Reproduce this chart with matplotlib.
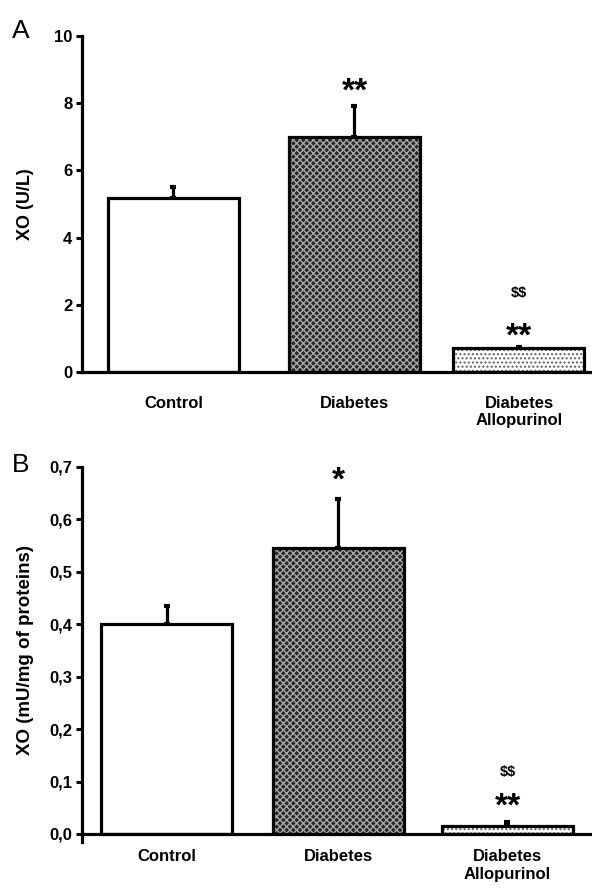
import matplotlib
matplotlib.use("Agg")
import matplotlib.pyplot as plt

plt.rcParams["font.family"] = ["Liberation Sans", "DejaVu Sans"]
plt.rcParams["hatch.linewidth"] = 1.0

# data
groups = ["Control", "Diabetes", "Diabetes\nAllopurinol"]
xo_serum = [5.17, 7.0, 0.71]
xo_serum_err = [0.32, 0.9, 0.04]
xo_serum_marks = ["", "**", "**"]
xo_serum_marks2 = ["", "", "$$"]
xo_serum_ticks = [0, 2, 4, 6, 8, 10]

xo_tissue = [0.40, 0.545, 0.016]
xo_tissue_err = [0.034, 0.094, 0.007]
xo_tissue_marks = ["", "*", "**"]
xo_tissue_marks2 = ["", "", "$$"]
xo_tissue_ticks = [0.0, 0.1, 0.2, 0.3, 0.4, 0.5, 0.6, 0.7]

# bar styles: face, hatch colour, hatch
styles = [("white", "white", ""),
          ("#262626", "#a8a8a8", "xxxxx"),
          ("white", "#606060", "....")]

STAR_SIZE = 24


def draw_panel(ax, centers, width, values, errors, marks, marks2, ticks,
               ymax, mark_y, mark2_y, ylabel, tick_fmt, label_pad,
               ylabel_size, ylabel_pad):
    for c, v, e, (face, hcol, hatch) in zip(centers, values, errors, styles):
        ax.bar(c, v, width=width, color=face, edgecolor=hcol, hatch=hatch,
               linewidth=0, zorder=2)
        ax.bar(c, v, width=width, fill=False, edgecolor="black",
               linewidth=2.3, zorder=3)
        ax.errorbar(c, v, yerr=[[0], [e]], fmt="none", ecolor="black",
                    elinewidth=2.3, capsize=2.5, capthick=3, zorder=1)
    for c, m, y in zip(centers, marks, mark_y):
        if m:
            # shift so the centre of the star glyph sits on y
            ax.annotate(m, (c, y), xytext=(0, -0.42 * STAR_SIZE),
                        textcoords="offset points", ha="center",
                        va="baseline", fontsize=STAR_SIZE,
                        fontweight="bold", annotation_clip=False)
    for c, m, y in zip(centers, marks2, mark2_y):
        if m:
            ax.text(c, y, m, ha="center", va="center", fontsize=10.5,
                    fontweight="bold", parse_math=False)
    ax.set_xlim(0, 510)
    ax.set_ylim(0, ymax)
    ax.set_yticks(ticks)
    ax.set_yticklabels([tick_fmt(t) for t in ticks], fontsize=12,
                       fontweight="bold")
    ax.set_xticks(centers)
    ax.set_xticklabels(groups, fontsize=12, fontweight="bold")
    ax.tick_params(axis="x", length=0, pad=label_pad)
    ax.tick_params(axis="y", length=4, width=2.2, direction="out", pad=3)
    for s in ["top", "right"]:
        ax.spines[s].set_visible(False)
    for s in ["left", "bottom"]:
        ax.spines[s].set_linewidth(2.3)
    ax.set_ylabel(ylabel, fontsize=ylabel_size, fontweight="bold",
                  labelpad=ylabel_pad)


fig = plt.figure(figsize=(5.92, 8.89), dpi=100)
ax_a = fig.add_axes([0.1385, 0.5816, 0.8615, 0.378])
ax_b = fig.add_axes([0.1385, 0.0619, 0.8615, 0.4128])

draw_panel(ax_a, [91.5, 272.5, 437], 131, xo_serum, xo_serum_err,
           xo_serum_marks, xo_serum_marks2, xo_serum_ticks, 10,
           [0, 8.5, 1.19], [0, 0, 2.35], "XO (U/L)",
           lambda t: f"{t:d}", 17, 13, 14)
draw_panel(ax_b, [85, 256.5, 425.5], 131, xo_tissue, xo_tissue_err,
           xo_tissue_marks, xo_tissue_marks2, xo_tissue_ticks, 0.7,
           [0, 0.683, 0.061], [0, 0, 0.119], "XO (mU/mg of proteins)",
           lambda t: f"{t:.1f}".replace(".", ","), 11, 13.5, 11)
ax_b.spines["left"].set_bounds(-0.015, 0.7)
ax_b.set_ylim(-0.0001, 0.7)

fig.text(12 / 592, 1 - 38 / 889, "A", fontsize=19)
fig.text(12 / 592, 1 - 472 / 889, "B", fontsize=19)

fig.savefig("out.png", dpi=100)
